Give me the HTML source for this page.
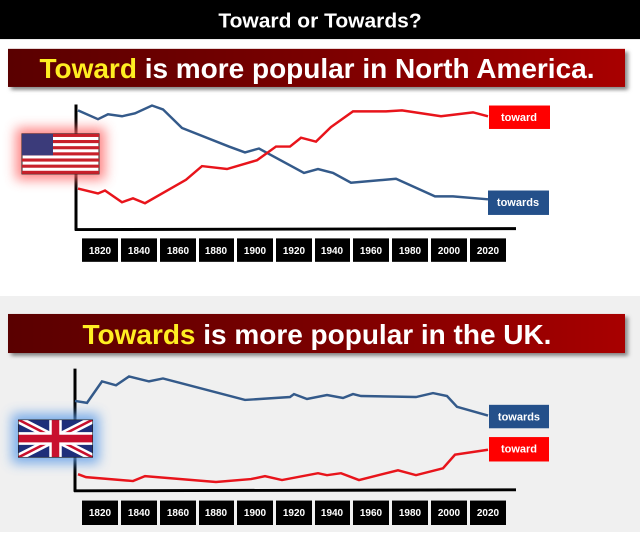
<!DOCTYPE html>
<html><head><meta charset="utf-8"><style>
html,body{margin:0;padding:0;background:#fff}
svg{display:block}
text{font-family:"Liberation Sans",sans-serif;font-weight:bold}
</style></head><body>
<svg width="640" height="540" viewBox="0 0 640 540" xmlns="http://www.w3.org/2000/svg">
<defs>
<linearGradient id="bn" x1="0" x2="1" y1="0" y2="0">
<stop offset="0" stop-color="#5a0000"/><stop offset="0.5" stop-color="#7a0000"/><stop offset="1" stop-color="#a80000"/>
</linearGradient>
<filter id="gr" x="-50%" y="-50%" width="200%" height="200%"><feGaussianBlur stdDeviation="6"/></filter>
<filter id="sh" x="-5%" y="-20%" width="110%" height="160%"><feGaussianBlur stdDeviation="2"/></filter>
</defs>
<rect x="0" y="296" width="640" height="236" fill="#f0f0f0"/>
<g transform="scale(1,0.977)">
<rect x="0" y="0" width="640" height="40" fill="#000"/>
<text x="320" y="28" font-size="21" fill="#fff" text-anchor="middle">Toward or Towards?</text>

<rect x="11" y="53" width="617" height="39" fill="#888" filter="url(#sh)"/>
<rect x="8" y="50" width="617" height="39" fill="url(#bn)"/>
<text x="317" y="80" font-size="28" fill="#fff" text-anchor="middle"><tspan fill="#ffee22">Toward</tspan> is more popular in North America.</text>

<line x1="76" y1="107" x2="76" y2="236" stroke="#000" stroke-width="3"/>
<line x1="75" y1="235" x2="516" y2="234" stroke="#000" stroke-width="3"/>
<polyline fill="none" stroke="#345a8a" stroke-width="2.5" points="78,113 98,122 108,117 122,119 135,116 152,108 163,112 182,131 229,150 245,156 259,152 304,177 318,173 333,177 351,187 396,183 435,201 453,201 488,204"/>
<polyline fill="none" stroke="#e8141b" stroke-width="2.5" points="78,193 98,198 105,195 122,207 133,203 145,208 186,184 202,170 227,173 257,164 276,150 290,150 301,141 316,145 331,130 353,114 386,114 402,113 441,119 473,115 488,119"/>
<rect x="489" y="108" width="61" height="24" fill="#f00"/>
<text x="519" y="124" font-size="11" fill="#fff" text-anchor="middle" font-weight="normal">toward</text>
<rect x="488" y="195" width="61" height="25" fill="#24508a"/>
<text x="518" y="211" font-size="11" fill="#fff" text-anchor="middle" font-weight="normal">towards</text>
<rect x="16" y="131" width="89" height="53" fill="#f66" opacity="0.8" filter="url(#gr)"/>
<g>
<rect x="22" y="137" width="77" height="41" fill="#fff" stroke="#222" stroke-width="1"/>
<g fill="#c8202a">
<rect x="22" y="137" width="77" height="3.2"/><rect x="22" y="143.3" width="77" height="3.2"/><rect x="22" y="149.6" width="77" height="3.2"/><rect x="22" y="155.9" width="77" height="3.2"/><rect x="22" y="162.2" width="77" height="3.2"/><rect x="22" y="168.5" width="77" height="3.2"/><rect x="22" y="174.8" width="77" height="3.2"/>
</g>
<rect x="22" y="137" width="31" height="22" fill="#3b3b7a"/>
</g>
<g fill="#000">
<rect x="82" y="244" width="36" height="24"/><rect x="121" y="244" width="36" height="24"/><rect x="160" y="244" width="36" height="24"/><rect x="199" y="244" width="35" height="24"/><rect x="237" y="244" width="36" height="24"/><rect x="276" y="244" width="36" height="24"/><rect x="315" y="244" width="35" height="24"/><rect x="353" y="244" width="36" height="24"/><rect x="392" y="244" width="36" height="24"/><rect x="431" y="244" width="36" height="24"/><rect x="470" y="244" width="36" height="24"/>
</g>
<g fill="#fff" font-size="10" text-anchor="middle">
<text x="100" y="260">1820</text><text x="139" y="260">1840</text><text x="178" y="260">1860</text><text x="216" y="260">1880</text><text x="255" y="260">1900</text><text x="294" y="260">1920</text><text x="332" y="260">1940</text><text x="371" y="260">1960</text><text x="410" y="260">1980</text><text x="449" y="260">2000</text><text x="488" y="260">2020</text>
</g>
</g>

<g transform="translate(0,270) scale(1,0.977) translate(0,-270)">
<rect x="11" y="318" width="617" height="40" fill="#888" filter="url(#sh)"/>
<rect x="8" y="315" width="617" height="40" fill="url(#bn)"/>
<text x="317" y="346" font-size="28" fill="#fff" text-anchor="middle"><tspan fill="#ffee22">Towards</tspan> is more popular in the UK.</text>

<line x1="75" y1="371" x2="75" y2="497" stroke="#000" stroke-width="3"/>
<line x1="74" y1="496" x2="516" y2="495" stroke="#000" stroke-width="3"/>
<polyline fill="none" stroke="#345a8a" stroke-width="2.5" points="75,404 87,406 102,384 116,388 129,379 149,384 163,381 245,403 290,400 294,397 307,402 327,398 343,401 353,397 361,399 416,400 433,396 447,399 457,410 488,419"/>
<polyline fill="none" stroke="#e8141b" stroke-width="2.5" points="78,479 86,482 133,486 145,481 216,487 251,484 265,481 282,485 318,478 327,480 341,478 359,485 398,475 416,480 443,473 455,459 488,454"/>
<rect x="489" y="408" width="60" height="24" fill="#24508a"/>
<text x="519" y="424" font-size="11" fill="#fff" text-anchor="middle" font-weight="normal">towards</text>
<rect x="489" y="441" width="60" height="25" fill="#f00"/>
<text x="519" y="457" font-size="11" fill="#fff" text-anchor="middle" font-weight="normal">toward</text>
<rect x="12" y="417" width="87" height="51" fill="#5b9be8" opacity="0.8" filter="url(#gr)"/>
<svg x="18" y="423" width="75" height="39" viewBox="0 0 60 30" preserveAspectRatio="none">
<rect width="60" height="30" fill="#1e2f7a"/>
<path d="M0,0 L60,30 M60,0 L0,30" stroke="#fff" stroke-width="6"/>
<path d="M0,0 L60,30 M60,0 L0,30" stroke="#c8102e" stroke-width="2"/>
<path d="M30,0 V30 M0,15 H60" stroke="#fff" stroke-width="10"/>
<path d="M30,0 V30 M0,15 H60" stroke="#c8102e" stroke-width="6"/>
<rect width="60" height="30" fill="none" stroke="#222" stroke-width="1"/>
</svg>
<g fill="#000">
<rect x="82" y="506" width="36" height="25"/><rect x="121" y="506" width="36" height="25"/><rect x="160" y="506" width="36" height="25"/><rect x="199" y="506" width="35" height="25"/><rect x="237" y="506" width="36" height="25"/><rect x="276" y="506" width="36" height="25"/><rect x="315" y="506" width="35" height="25"/><rect x="353" y="506" width="36" height="25"/><rect x="392" y="506" width="36" height="25"/><rect x="431" y="506" width="36" height="25"/><rect x="470" y="506" width="36" height="25"/>
</g>
<g fill="#fff" font-size="10" text-anchor="middle">
<text x="100" y="522">1820</text><text x="139" y="522">1840</text><text x="178" y="522">1860</text><text x="216" y="522">1880</text><text x="255" y="522">1900</text><text x="294" y="522">1920</text><text x="332" y="522">1940</text><text x="371" y="522">1960</text><text x="410" y="522">1980</text><text x="449" y="522">2000</text><text x="488" y="522">2020</text>
</g>
</g>
</svg>
</body></html>
